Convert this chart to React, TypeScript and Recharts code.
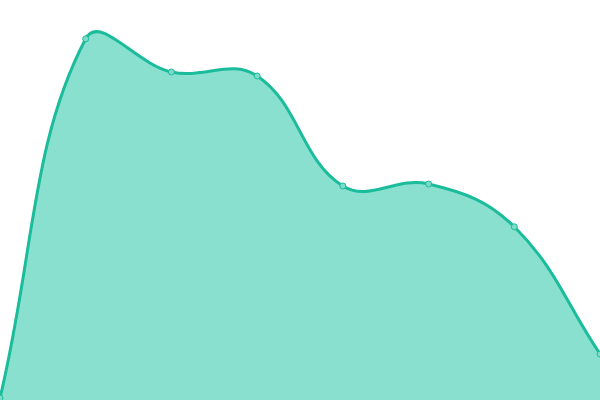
import { AreaChart, Area, XAxis, YAxis } from 'recharts'

// 색상
const COLORS = {
  line: '#1abc9c',
  fill: '#89e0cf',
  dot: '#7ddbc7',
}

const labels = ['A', 'B', 'C', 'D', 'E', 'F', 'G', 'H']
const values = [0.5, 90.3, 82, 81, 53.5, 54, 43.3, 11.5]

// tension 0.4 스플라인 (control point 방식)
const TENSION = 0.4

function tensionCurve(context: any) {
  let pts: [number, number][] = []
  let line = NaN
  return {
    areaStart() {
      line = 0
    },
    areaEnd() {
      line = NaN
    },
    lineStart() {
      pts = []
    },
    point(x: number, y: number) {
      pts.push([+x, +y])
    },
    lineEnd() {
      const n = pts.length
      if (n > 0) {
        if (line) context.lineTo(pts[0][0], pts[0][1])
        else context.moveTo(pts[0][0], pts[0][1])
        const cps = pts.map((p, i) => {
          const prev = pts[Math.max(i - 1, 0)]
          const next = pts[Math.min(i + 1, n - 1)]
          const d01 = Math.hypot(p[0] - prev[0], p[1] - prev[1])
          const d12 = Math.hypot(next[0] - p[0], next[1] - p[1])
          const sum = d01 + d12 || 1
          const fa = (TENSION * d01) / sum
          const fb = (TENSION * d12) / sum
          const dx = next[0] - prev[0]
          const dy = next[1] - prev[1]
          return {
            inX: p[0] - fa * dx,
            inY: p[1] - fa * dy,
            outX: p[0] + fb * dx,
            outY: p[1] + fb * dy,
          }
        })
        for (let i = 1; i < n; i++) {
          context.bezierCurveTo(cps[i - 1].outX, cps[i - 1].outY, cps[i].inX, cps[i].inY, pts[i][0], pts[i][1])
        }
      }
      if (line || (line !== 0 && n === 1)) context.closePath()
      line = 1 - line
    },
  }
}

export default function App() {
  const chartData = labels.map((label, i) => ({ label, value: values[i] }))

  return (
    <div style={{ position: 'fixed', left: 0, top: 0, width: 600, height: 400, background: '#fff' }}>
      <AreaChart width={600} height={400} data={chartData} margin={{ top: 0, right: 0, left: 0, bottom: 0 }}>
        <XAxis dataKey="label" hide />
        <YAxis hide domain={[0, 100]} />
        <Area
          type={tensionCurve as any}
          dataKey="value"
          stroke={COLORS.line}
          strokeWidth={3}
          fill={COLORS.fill}
          fillOpacity={1}
          dot={{ r: 3, fill: COLORS.dot, stroke: COLORS.line, strokeWidth: 1 }}
          activeDot={false}
          isAnimationActive={false}
        />
      </AreaChart>
    </div>
  )
}
